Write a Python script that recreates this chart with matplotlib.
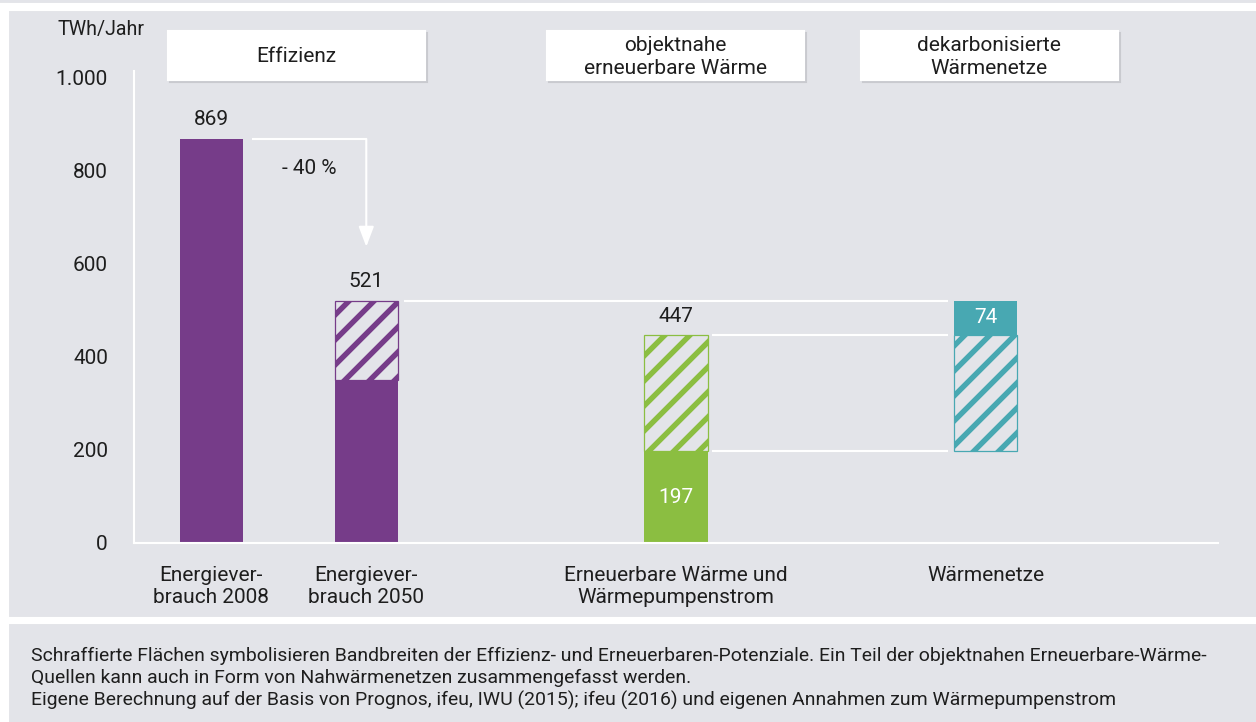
import matplotlib.pyplot as plt
from matplotlib.patches import Rectangle

W, H, DPI = 1256, 722, 150
bg = '#e3e4e9'
purple = '#763c89'
green = '#8bbe41'
teal = '#48a8b2'
ink = '#1e1e1e'

plt.rcParams['font.family'] = ['Roboto', 'DejaVu Sans']
plt.rcParams['font.size'] = 10
plt.rcParams['hatch.linewidth'] = 2.6

# Daten (TWh/Jahr)
categories = ['Energiever-\nbrauch 2008', 'Energiever-\nbrauch 2050',
              'Erneuerbare Wärme und\nWärmepumpenstrom', 'Wärmenetze']
positions = [0, 1, 3, 5]
verbrauch_2008 = 869
verbrauch_2050 = 521
verbrauch_2050_min = 350
ee_min = 197
ee_max = 447
netze_zusatz = 74
yticks = [0, 200, 400, 600, 800, 1000]
ytick_labels = ['0', '200', '400', '600', '800', '1.000']
headers = ['Effizienz', 'objektnahe\nerneuerbare Wärme', 'dekarbonisierte\nWärmenetze']
header_centers = [296, 675, 989]   # px
caption = ['Schraffierte Flächen symbolisieren Bandbreiten der Effizienz- und Erneuerbaren-Potenziale. '
           'Ein Teil der objektnahen Erneuerbare-Wärme-',
           'Quellen kann auch in Form von Nahwärmenetzen zusammengefasst werden.',
           'Eigene Berechnung auf der Basis von Prognos, ifeu, IWU (2015); ifeu (2016) und eigenen '
           'Annahmen zum Wärmepumpenstrom']

fig = plt.figure(figsize=(W / DPI, H / DPI), dpi=DPI, facecolor=bg)

def fx(x):
    return x / W

def fy(y):
    return 1 - y / H

# white frame strips
fig.patches.append(Rectangle((0, fy(10)), 1, 6 / H, transform=fig.transFigure, color='white', zorder=0))
fig.patches.append(Rectangle((0, 0), fx(8), fy(4), transform=fig.transFigure, color='white', zorder=0))
fig.patches.append(Rectangle((0, fy(623)), 1, 5 / H, transform=fig.transFigure, color='white', zorder=0))

ax = fig.add_axes([fx(134), fy(543), fx(1218 - 134), (543 - 71) / H])
ax.set_facecolor('none')
ax.set_xlim(-0.5, 6.5)
ax.set_ylim(0, 1015)
for s in ['top', 'right']:
    ax.spines[s].set_visible(False)
for s in ['left', 'bottom']:
    ax.spines[s].set_color('white')
    ax.spines[s].set_linewidth(1.0)
ax.set_yticks(yticks, ytick_labels)
ax.set_xticks(positions, categories)
ax.tick_params(axis='y', length=0, pad=12.5, colors=ink)
ax.tick_params(axis='x', length=0, pad=11, colors=ink)
for t in ax.get_xticklabels():
    t.set_linespacing(1.2)

w = 0.41
ax.bar(positions[0], verbrauch_2008, width=w, color=purple, zorder=2)
ax.bar(positions[1], verbrauch_2050_min, width=w, color=purple, zorder=2)
ax.bar(positions[1], verbrauch_2050 - verbrauch_2050_min, bottom=verbrauch_2050_min, width=w,
       facecolor=bg, edgecolor=purple, hatch='//', linewidth=0.6, zorder=2)
ax.bar(positions[2], ee_min, width=w, color=green, zorder=2)
ax.bar(positions[2], ee_max - ee_min, bottom=ee_min, width=w,
       facecolor=bg, edgecolor=green, hatch='//', linewidth=0.6, zorder=2)
ax.bar(positions[3], ee_max - ee_min, bottom=ee_min, width=w,
       facecolor=bg, edgecolor=teal, hatch='//', linewidth=0.6, zorder=2)
ax.bar(positions[3], netze_zusatz, bottom=ee_max, width=w, color=teal, zorder=2)

# connector lines
ax.plot([positions[0] + w / 2 + 0.06, positions[1]], [verbrauch_2008, verbrauch_2008],
        color='white', lw=1.0, solid_capstyle='butt', zorder=1)
ax.annotate('', xy=(positions[1], 637), xytext=(positions[1], verbrauch_2008),
            arrowprops=dict(arrowstyle='-|>,head_length=0.82,head_width=0.31', color='white',
                            lw=1.0, shrinkA=0, shrinkB=0))
ax.text(0.63, 806, '- 40 %', ha='center', va='center', color=ink)
ax.hlines(verbrauch_2050, positions[1] + w / 2 + 0.04, positions[3] - w / 2 - 0.04,
          color='white', lw=1.0, zorder=1)
ax.hlines([ee_max, ee_min], positions[2] + w / 2 + 0.027, positions[3] - w / 2 - 0.04,
          color='white', lw=1.0, zorder=1)

# value labels
for x, v in [(positions[0], verbrauch_2008), (positions[1], verbrauch_2050), (positions[2], ee_max)]:
    ax.annotate(f'{v}', (x, v), xytext=(0, 6.5), textcoords='offset points',
                ha='center', va='baseline', color=ink)
ax.text(positions[2], ee_min / 2, f'{ee_min}', ha='center', va='center', color='white', zorder=3)
ax.text(positions[3], ee_max + netze_zusatz / 2, f'{netze_zusatz}', ha='center', va='center',
        color='white', zorder=3)

# header boxes
for c, label in zip(header_centers, headers):
    fig.patches.append(Rectangle((fx(c - 128 + 2), fy(82)), fx(257), 49 / H,
                                 transform=fig.transFigure, color='#c9cacf', zorder=1))
    fig.patches.append(Rectangle((fx(c - 128), fy(80)), fx(257), 49 / H,
                                 transform=fig.transFigure, color='white', zorder=2))
    fig.text(fx(c), fy(57), label, ha='center', va='center', color=ink,
             linespacing=1.27, zorder=3)

fig.text(fx(58), fy(30), 'TWh/Jahr', ha='left', va='center', color=ink, fontsize=9.4)

for i, line in enumerate(caption):
    fig.text(fx(31), fy(656 + 22 * i), line, ha='left', va='center', color=ink, fontsize=9.3)

fig.savefig('out.png', dpi=DPI, facecolor=bg)
